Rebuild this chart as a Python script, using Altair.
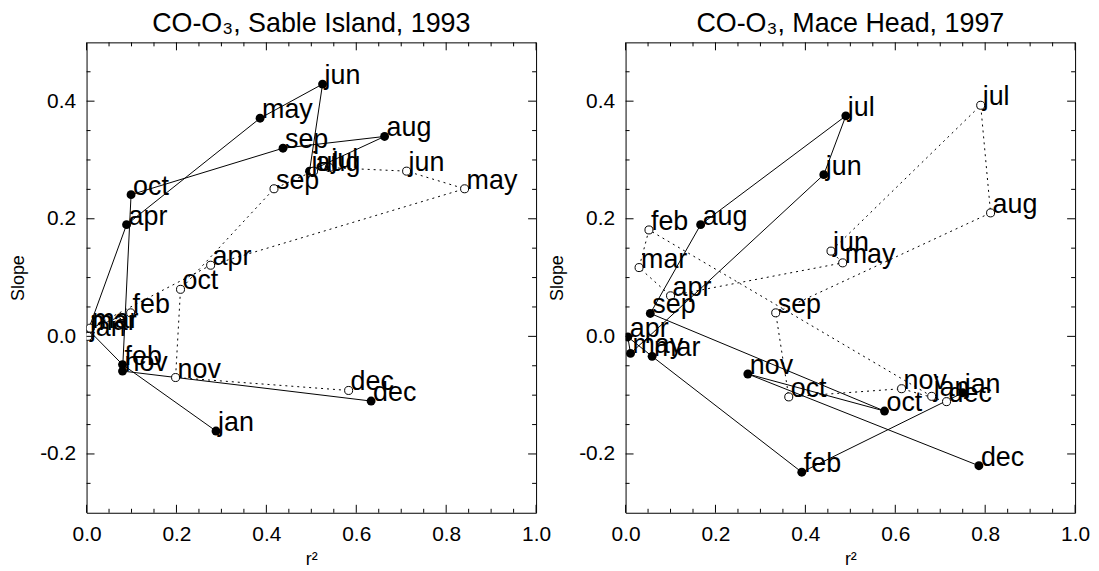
import altair as alt
import pandas as pd

FONT = "Liberation Sans"

months = ["jan", "feb", "mar", "apr", "may", "jun", "jul", "aug", "sep", "oct", "nov", "dec"]

# Sable Island 1993
sable_filled_r2 = [0.288, 0.080, 0.004, 0.089, 0.386, 0.525, 0.496, 0.663, 0.437, 0.099, 0.080, 0.633]
sable_filled_slope = [-0.161, -0.048, 0.011, 0.190, 0.371, 0.429, 0.281, 0.340, 0.320, 0.241, -0.059, -0.110]
sable_open_r2 = [0.003, 0.098, 0.008, 0.276, 0.841, 0.712, 0.540, 0.505, 0.417, 0.209, 0.198, 0.583]
sable_open_slope = [0.000, 0.040, 0.014, 0.121, 0.251, 0.281, 0.287, 0.281, 0.251, 0.080, -0.070, -0.092]

# Mace Head 1997
mace_filled_r2 = [0.750, 0.392, 0.059, 0.005, 0.011, 0.441, 0.490, 0.167, 0.055, 0.576, 0.272, 0.786]
mace_filled_slope = [-0.096, -0.231, -0.034, -0.001, -0.029, 0.275, 0.375, 0.190, 0.039, -0.127, -0.064, -0.220]
mace_open_r2 = [0.681, 0.052, 0.030, 0.100, 0.483, 0.457, 0.790, 0.812, 0.334, 0.363, 0.614, 0.714]
mace_open_slope = [-0.102, 0.181, 0.117, 0.069, 0.125, 0.145, 0.393, 0.210, 0.040, -0.103, -0.089, -0.111]

x_major = [0.0, 0.2, 0.4, 0.6, 0.8, 1.0]
x_minor = [0.05, 0.1, 0.15, 0.25, 0.3, 0.35, 0.45, 0.5, 0.55, 0.65, 0.7, 0.75, 0.85, 0.9, 0.95]
y_major = [-0.2, 0.0, 0.2, 0.4]
y_minor = [-0.25, -0.15, -0.1, -0.05, 0.05, 0.1, 0.15, 0.25, 0.3, 0.35, 0.45]

W, H = 452, 473
MAJ, MIN = 8, 4

xaxis = alt.Axis(values=x_major, format=".1f", labelFontSize=21, labelFont=FONT,
                 labelColor="black", labelPadding=11, ticks=False, domain=False,
                 grid=False, labelFlush=False, labelOverlap=False,
                 title="r²", titleFontSize=18, titleFont=FONT, titleFontWeight="normal",
                 titleColor="black", titlePadding=6)
yaxis = alt.Axis(values=y_major, labelExpr="datum.value < 0 ? '-' + format(abs(datum.value), '.1f') : format(datum.value, '.1f')",
                 labelFontSize=21, labelFont=FONT,
                 labelColor="black", labelPadding=11, ticks=False, domain=False,
                 grid=False, labelFlush=False, labelOverlap=False,
                 title="Slope", titleFontSize=18, titleFont=FONT, titleFontWeight="normal",
                 titleColor="black", titlePadding=12)

xscale = alt.Scale(domain=[0, 1], nice=False, zero=False)
yscale = alt.Scale(domain=[-0.3, 0.5], nice=False, zero=False)
X = alt.X("x:Q", scale=xscale, axis=xaxis)
Y = alt.Y("y:Q", scale=yscale, axis=yaxis)


def panel(fx, fy, ox, oy, title):
    df = pd.DataFrame({
        "month": months + months,
        "x": fx + ox,
        "y": fy + oy,
        "series": ["filled"] * 12 + ["open"] * 12,
        "idx": list(range(12)) * 2,
    })
    base = alt.Chart(df)
    solid = base.transform_filter("datum.series == 'filled'").mark_line(
        color="black", strokeWidth=1, clip=True).encode(X, Y, order="idx:Q")
    dotted = base.transform_filter("datum.series == 'open'").mark_line(
        color="black", strokeWidth=1, strokeDash=[2, 4], clip=True).encode(X, Y, order="idx:Q")
    fpts = base.transform_filter("datum.series == 'filled'").mark_circle(
        size=80, color="black", opacity=1, clip=True).encode(X, Y)
    opts = base.transform_filter("datum.series == 'open'").mark_circle(
        size=65, fill="white", stroke="black", strokeWidth=1, opacity=1, clip=True).encode(X, Y)
    labels = base.mark_text(align="left", baseline="alphabetic", dx=2, fontSize=27,
                            font=FONT, color="black").encode(X, Y, text="month:N")

    layers = [solid, dotted, fpts, opts, labels]
    for vals, ln in ((x_major, MAJ), (x_minor, MIN)):
        d = pd.DataFrame({"x": vals})
        layers.append(alt.Chart(d).mark_rule(color="black", strokeWidth=1).encode(
            X, y=alt.value(H), y2=alt.value(H - ln)))
        layers.append(alt.Chart(d).mark_rule(color="black", strokeWidth=1).encode(
            X, y=alt.value(0), y2=alt.value(ln)))
    for vals, ln in ((y_major, MAJ), (y_minor, MIN)):
        d = pd.DataFrame({"y": vals})
        layers.append(alt.Chart(d).mark_rule(color="black", strokeWidth=1).encode(
            Y, x=alt.value(0), x2=alt.value(ln)))
        layers.append(alt.Chart(d).mark_rule(color="black", strokeWidth=1).encode(
            Y, x=alt.value(W), x2=alt.value(W - ln)))

    return alt.layer(*layers).properties(
        width=W, height=H,
        title=alt.TitleParams(title, fontSize=27, font=FONT, fontWeight="normal",
                              color="black", offset=4, anchor="middle"))


left = panel(sable_filled_r2, sable_filled_slope, sable_open_r2, sable_open_slope,
             "CO-O₃, Sable Island, 1993")
right = panel(mace_filled_r2, mace_filled_slope, mace_open_r2, mace_open_slope,
              "CO-O₃, Mace Head, 1997")

chart = alt.hconcat(left, right, spacing=90, bounds="flush").configure_view(
    stroke="black", strokeWidth=1).properties(
    padding={"left": 1, "top": 0, "right": 0, "bottom": 0}, background="white")

chart.save("out.html", embed_options={"renderer": "svg", "actions": False})
